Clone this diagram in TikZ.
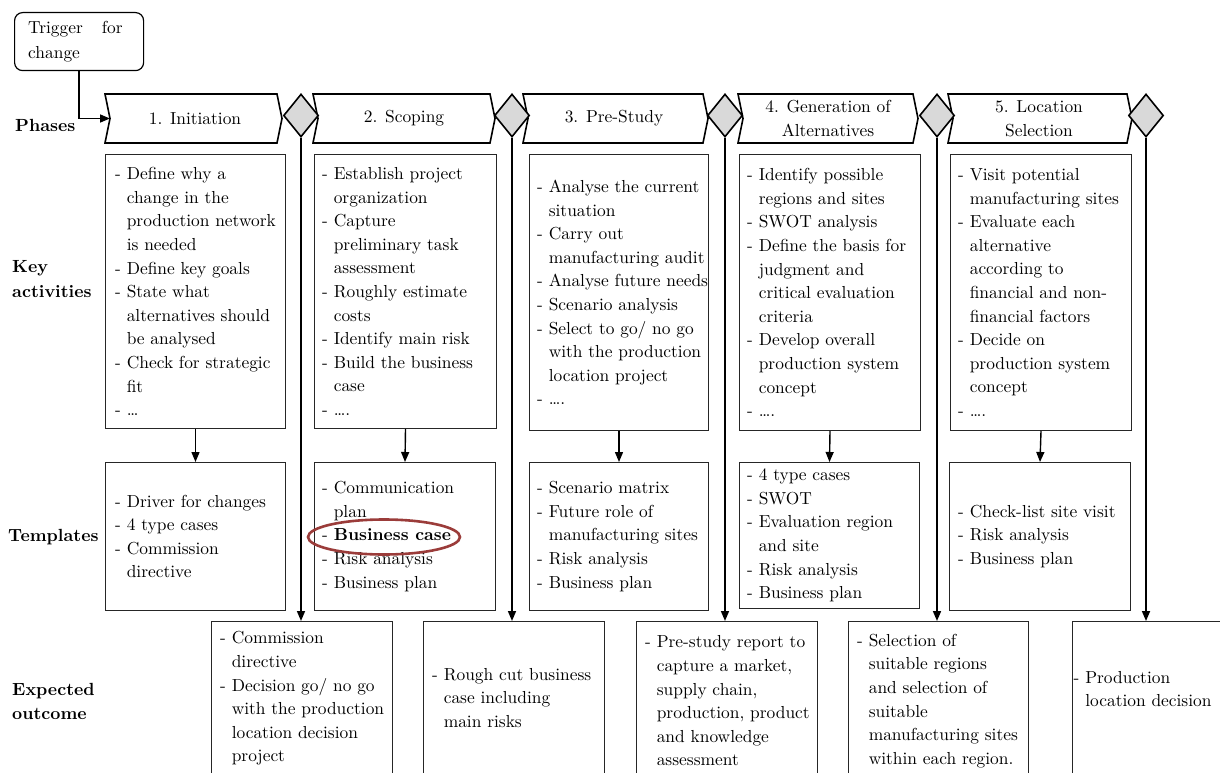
\documentclass[tikz,border=0pt]{standalone}
\usepackage{fontspec}
\setmainfont{lmroman10}[Extension=.otf, UprightFont=*-regular, BoldFont=*-bold, ItalicFont=*-italic, BoldItalicFont=*-bolditalic]
\usetikzlibrary{shapes.geometric,arrows.meta}
\definecolor{circred}{RGB}{155,60,58}
\definecolor{gatefill}{RGB}{217,217,217}
\newcommand{\contline}{\hphantom{- }}
\begin{document}
\begin{tikzpicture}[x=1pt,y=-1pt,
 txt/.style={font=\fontsize{17.4}{23.6}\selectfont, align=left, inner sep=0pt},
 lbl/.style={font=\fontsize{17.6}{24.5}\selectfont\bfseries, align=left, inner sep=0pt, anchor=west},
 box/.style={draw=black!85, line width=1pt, rectangle, inner sep=0pt, anchor=north west},
 phase/.style={draw=black, line width=1.6pt, line join=miter, fill=white},
 gate/.style={diamond, draw=black, line width=1.6pt, fill=gatefill, minimum width=35pt, minimum height=43pt, inner sep=0pt},
 flow/.style={draw=black, line width=1.6pt, -{Triangle[length=10pt,width=8pt]}},
 ]
\useasboundingbox (0,0) rectangle (1220,773);
\clip (0,0) rectangle (1220,773);
\fill[white] (0,0) rectangle (1220,773);

% trigger
\node[draw=black, line width=1.2pt, rounded corners=8pt, minimum width=129pt, minimum height=58pt, inner sep=0pt, anchor=north west] (trig) at (14,12) {};
\node[txt, font=\fontsize{17.4}{25}\selectfont, anchor=west] (trigtxt) at (28,41.5) {Trigger\hspace{19pt}for\\change};

% phases
\draw[phase] (105,94) -- (277,94) -- (282,118.5) -- (277,143) -- (105,143) -- (110,118.5) coordinate (p1w) -- cycle;
\draw[phase] (313,94) -- (490,94) -- (495,118.5) -- (490,143) -- (313,143) -- (318,118.5) coordinate (p2w) -- cycle;
\draw[phase] (523,94) -- (703,94) -- (708,118.5) -- (703,143) -- (523,143) -- (528,118.5) coordinate (p3w) -- cycle;
\draw[phase] (738,94) -- (913,94) -- (918,118.5) -- (913,143) -- (738,143) -- (743,118.5) coordinate (p4w) -- cycle;
\draw[phase] (948,94) -- (1127,94) -- (1132,118.5) -- (1127,143) -- (948,143) -- (953,118.5) coordinate (p5w) -- cycle;
\node[txt, align=center] (p1) at (195,118.5) {1. Initiation};
\node[txt, align=center] (p2) at (404,118.5) {2. Scoping};
\node[txt, align=center] (p3) at (614,118.5) {3. Pre-Study};
\node[txt, align=center, font=\fontsize{17.4}{24}\selectfont] (p4) at (828,118.5) {4. Generation of\\Alternatives};
\node[txt, align=center, font=\fontsize{17.4}{24}\selectfont] (p5) at (1039,118.5) {5. Location\\Selection};

% gates
\node[gate] (d1) at (301,115.5) {};
\node[gate] (d2) at (512,115.5) {};
\node[gate] (d3) at (725,115.5) {};
\node[gate] (d4) at (937,115.5) {};
\node[gate] (d5) at (1146,115.5) {};

\draw[flow] (trig.south) |- (p1w);

% labels
\node[lbl] (lphase) at (15,125) {Phases};
\node[lbl] (lkey) at (12,279) {Key\\activities};
\node[lbl] (ltmp) at (8,537) {Templates};
\node[lbl] (lexp) at (12,701.5) {Expected\\outcome};

% key activities
\node[box, minimum width=180pt, minimum height=274pt] (k1) at (105,154) {};
\node[box, minimum width=182pt, minimum height=274pt] (k2) at (314,154) {};
\node[box, minimum width=179pt, minimum height=276pt] (k3) at (529,154) {};
\node[box, minimum width=181pt, minimum height=276pt] (k4) at (739,154) {};
\node[box, minimum width=181pt, minimum height=276pt] (k5) at (950,154) {};

\node[txt, anchor=west] (k1t) at ([xshift=10pt]k1.west) {- Define why a\\\contline change in the\\\contline production network\\\contline is needed\\- Define key goals\\- State what\\\contline alternatives should\\\contline be analysed\\- Check for strategic\\\contline fit\\- …};
\node[txt, anchor=west] (k2t) at ([xshift=8pt]k2.west) {- Establish project\\\contline organization\\- Capture\\\contline preliminary task\\\contline assessment\\- Roughly estimate\\\contline costs\\- Identify main risk\\- Build the business\\\contline case\\- ….};
\node[txt, anchor=west] (k3t) at ([xshift=8pt]k3.west) {- Analyse the current\\\contline situation\\- Carry out\\\contline manufacturing audit\\- Analyse future needs\\- Scenario analysis\\- Select to go/ no go\\\contline with the production\\\contline location project\\- ….};
\node[txt, anchor=west] (k4t) at ([xshift=8pt]k4.west) {- Identify possible\\\contline regions and sites\\- SWOT analysis\\- Define the basis for\\\contline judgment and\\\contline critical evaluation\\\contline criteria\\- Develop overall\\\contline production system\\\contline concept\\- ….};
\node[txt, anchor=west] (k5t) at ([xshift=8pt]k5.west) {- Visit potential\\\contline manufacturing sites\\- Evaluate each\\\contline alternative\\\contline according to\\\contline financial and non-\\\contline financial factors\\- Decide on\\\contline production system\\\contline concept\\- ….};

% templates
\node[box, minimum width=180pt, minimum height=148pt] (t1) at (105,462) {};
\node[box, minimum width=181pt, minimum height=148pt] (t2) at (314,462) {};
\node[box, minimum width=179pt, minimum height=148pt] (t3) at (529,462) {};
\node[box, minimum width=180pt, minimum height=146pt] (t4) at (739,462) {};
\node[box, minimum width=181pt, minimum height=148pt] (t5) at (949,462) {};

\node[txt, anchor=west] (t1t) at ([xshift=10pt]t1.west) {- Driver for changes\\- 4 type cases\\- Commission\\\contline directive};
\node[txt, anchor=west] (t2t) at ([xshift=8pt]t2.west) {- Communication\\\contline plan\\- \textbf{Business case}\\- Risk analysis\\- Business plan};
\node[txt, anchor=west] (t3t) at ([xshift=8pt]t3.west) {- Scenario matrix\\- Future role of\\\contline manufacturing sites\\- Risk analysis\\- Business plan};
\node[txt, anchor=west] (t4t) at ([xshift=8pt]t4.west) {- 4 type cases\\- SWOT\\- Evaluation region\\\contline and site\\- Risk analysis\\- Business plan};
\node[txt, anchor=west] (t5t) at ([xshift=9pt]t5.west) {- Check-list site visit\\- Risk analysis\\- Business plan};

\node[ellipse, draw=circred, line width=2.6pt, minimum width=152pt, minimum height=35pt, inner sep=0pt] (hl) at (384,537) {};

% outcomes
\node[box, minimum width=181pt, minimum height=175pt] (o1) at (211,621) {};
\node[box, minimum width=181pt, minimum height=175pt] (o2) at (423,621) {};
\node[box, minimum width=181pt, minimum height=175pt] (o3) at (636,621) {};
\node[box, minimum width=180pt, minimum height=175pt] (o4) at (848,621) {};
\node[box, minimum width=175pt, minimum height=175pt] (o5) at (1072,621) {};

\node[txt, anchor=west] (o1t) at ([shift={(9,77.5)}]o1.north west) {- Commission\\\contline directive\\- Decision go/ no go\\\contline with the production\\\contline location decision\\\contline project};
\node[txt, anchor=west] (o2t) at ([shift={(9,77)}]o2.north west) {- Rough cut business\\\contline case including\\\contline main risks};
\node[txt, anchor=west] (o3t) at ([shift={(9,80)}]o3.north west) {- Pre-study report to\\\contline capture a market,\\\contline supply chain,\\\contline production, product\\\contline and knowledge\\\contline assessment};
\node[txt, anchor=west] (o4t) at ([shift={(9,80)}]o4.north west) {- Selection of\\\contline suitable regions\\\contline and selection of\\\contline suitable\\\contline manufacturing sites\\\contline within each region.};
\node[txt, anchor=west] (o5t) at ([shift={(1.5,68)}]o5.north west) {- Production\\\contline location decision};

% arrows key -> templates
\foreach \i in {1,...,5}{
  \draw[flow, line width=1.4pt] (k\i.south) -- (t\i.north);
}
% gate lines
\draw[flow] (d1.south) -- (d1.south |- o1.north);
\draw[flow] (d2.south) -- (d2.south |- o2.north);
\draw[flow] (d3.south) -- (d3.south |- o3.north);
\draw[flow] (d4.south) -- (d4.south |- o4.north);
\draw[flow] (d5.south) -- (d5.south |- o5.north);
\end{tikzpicture}
\end{document}
